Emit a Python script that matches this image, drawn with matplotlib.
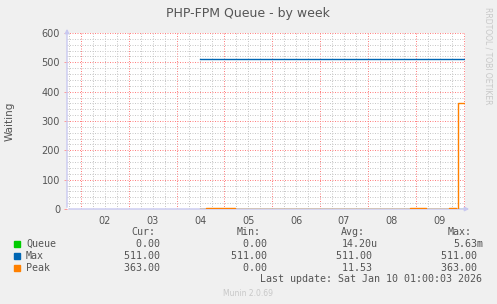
#!/usr/bin/env python
# -*- coding: utf-8 -*-

import matplotlib
matplotlib.use('Agg')
import matplotlib.pyplot as plt
import numpy as np

W, H = 497, 304

# time in days since Jan 01 00:00
t_start, t_end = 0.71, 9.03

# series as step points (time, value)
queue_t = [3.48, 9.03]
queue_v = [0.0, 0.0]
max_t = [3.48, 9.03]
max_v = [511.0, 511.0]
peak_t = [3.48, 3.625, 4.23, 7.875, 8.21, 8.69, 8.85, 8.875, 9.03]
peak_v = [0.0, 3.5, 0.0, 3.0, 0.0, 3.0, 0.0, 363.0, 363.0]

day_labels = ['02', '03', '04', '05', '06', '07', '08', '09']
yticks = [0, 100, 200, 300, 400, 500, 600]

names = ['Queue', 'Max', 'Peak']
colors = ['#00cc00', '#0066b3', '#ff8000']
cur = ['0.00 ', '511.00 ', '363.00 ']
mins = ['0.00 ', '511.00 ', '0.00 ']
avgs = ['14.20u', '511.00 ', '11.53 ']
maxs = ['5.63m', '511.00 ', '363.00 ']

txt = '#555555'


def px(x, y):
    return x / W, 1 - y / H


def main():
    fig = plt.figure(figsize=(W / 100, H / 100), dpi=100, facecolor='#f0f0f0')
    ax = fig.add_axes([67 / W, 95 / H, 398 / W, 176 / H])
    ax.set_facecolor('white')

    # grid: minor every 6h / 20 units, major at midnight / 100 units
    for d in np.arange(0.75, t_end, 0.25):
        if abs(d - round(d)) < 1e-6:
            continue
        ax.axvline(d, color='#c8c8c8', lw=0.72, ls=(0, (1, 1.5)), zorder=1)
    for d in range(1, 10):
        ax.axvline(d, color='#ff8080', lw=0.72, ls=(0, (1, 1.5)), zorder=1)
    for v in range(0, 601, 20):
        if v % 100 == 0:
            continue
        ax.axhline(v, color='#c8c8c8', lw=0.72, ls=(0, (1, 1.5)), zorder=1)
    for v in yticks[1:]:
        ax.axhline(v, color='#ff8080', lw=0.72, ls=(0, (1, 1.5)), zorder=1)

    ax.step(queue_t, queue_v, where='post', color=colors[0], lw=1, zorder=3)
    ax.step(max_t, max_v, where='post', color=colors[1], lw=1, zorder=3)
    ax.step(peak_t, peak_v, where='post', color=colors[2], lw=1, zorder=4)

    ax.set_xlim(t_start, t_end)
    ax.set_ylim(0, 600)
    for s in ax.spines.values():
        s.set_visible(False)
    ax.set_xticks([d + 0.5 for d in range(1, 9)])
    ax.set_xticklabels(day_labels)
    ax.set_yticks(yticks)
    ax.tick_params(axis='both', length=0, labelsize=7, colors=txt, pad=5)
    ax.tick_params(axis='y', length=2, color='#ff9999', width=0.7, pad=3)

    # axis lines with arrows
    ax.annotate('', xy=(472 / W, 1 - 209 / H), xytext=(66 / W, 1 - 209 / H),
                xycoords='figure fraction',
                arrowprops=dict(arrowstyle='-|>', color='#c8c8f0', lw=1, mutation_scale=6))
    ax.annotate('', xy=(67 / W, 1 - 26 / H), xytext=(67 / W, 1 - 210 / H),
                xycoords='figure fraction',
                arrowprops=dict(arrowstyle='-|>', color='#c8c8f0', lw=1, mutation_scale=6))

    fig.text(*px(248, 13), 'PHP-FPM Queue - by week', ha='center', va='center',
             fontsize=9, color=txt)
    fig.text(*px(10, 121), 'Waiting', rotation=90, ha='center', va='center',
             fontsize=7.5, color=txt)
    fig.text(*px(488, 56), 'RRDTOOL / TOBI OETIKER', rotation=270, ha='center',
             va='center', fontsize=5.5, color='#c8c8c8')

    # legend
    mono = dict(family='DejaVu Sans Mono', fontsize=7.2, color=txt, va='center')
    hx = [155, 261, 365, 472]
    vx = [166, 273, 378, 483]
    for h, x in zip(['Cur:', 'Min:', 'Avg:', 'Max:'], hx):
        fig.text(*px(x, 232), h, ha='right', **mono)
    rows_y = [244, 256, 268]
    for i in range(3):
        y = rows_y[i]
        fig.patches.append(plt.Rectangle(px(14, y + 3), 6 / W, 6 / H,
                                         transform=fig.transFigure,
                                         color=colors[i], figure=fig))
        fig.text(*px(26, y), names[i], ha='left', **mono)
        for col, x in zip([cur, mins, avgs, maxs], vx):
            fig.text(*px(x, y), col[i], ha='right', **mono)
    fig.text(*px(482, 279), 'Last update: Sat Jan 10 01:00:03 2026', ha='right', **mono)
    fig.text(*px(248, 294), 'Munin 2.0.69', ha='center', va='center',
             fontsize=5.5, color='#c8c8c8')

    plt.savefig('out.png', dpi=100, facecolor=fig.get_facecolor())


if __name__ == '__main__':
    main()
